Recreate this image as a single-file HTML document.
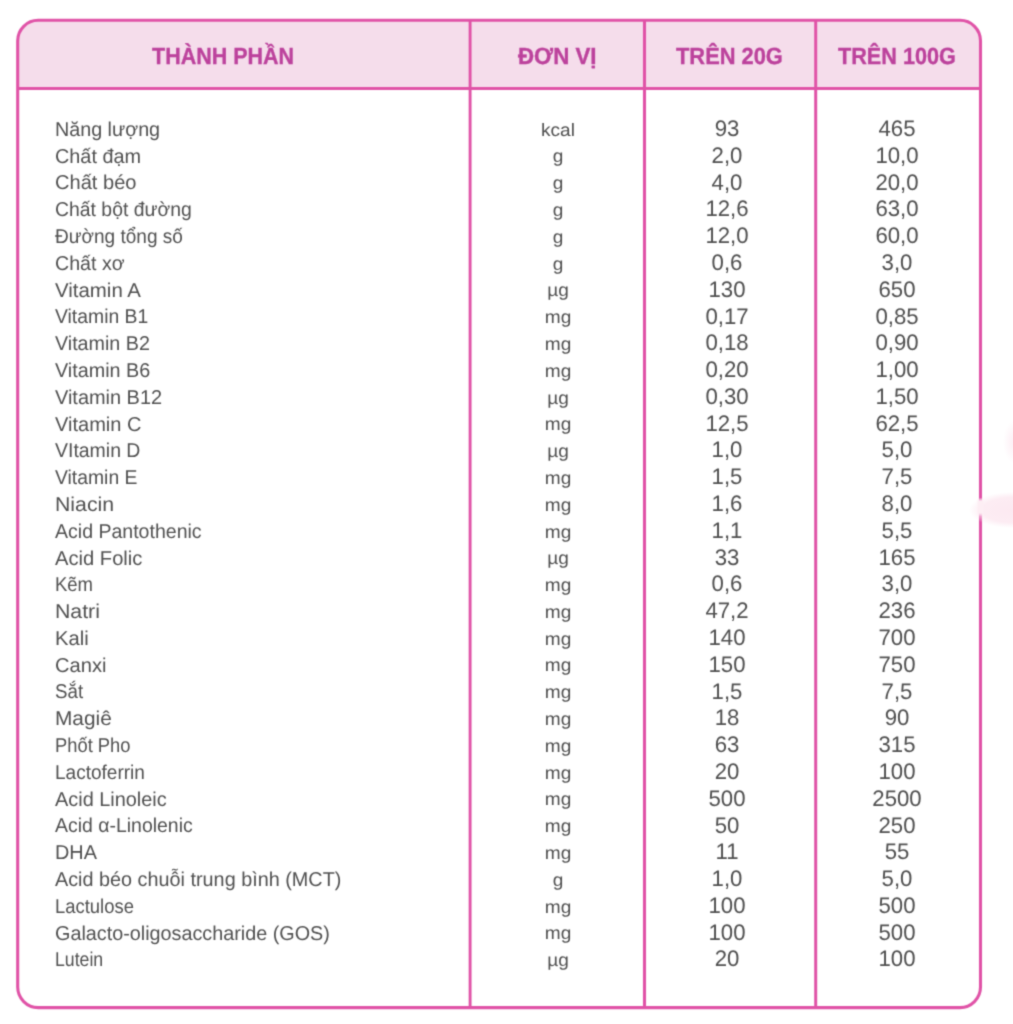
<!DOCTYPE html>
<html><head><meta charset="utf-8"><title>Thành phần dinh dưỡng</title><style>
html,body{margin:0;padding:0;background:#fff;}
body{width:1013px;height:1024px;position:relative;overflow:hidden;font-family:"Liberation Sans",sans-serif;text-rendering:geometricPrecision;}
.wrap{position:absolute;left:0;top:0;width:1013px;height:1024px;background:#fff;filter:url(#sf);}
.h{position:absolute;font-weight:bold;-webkit-text-stroke:0.35px #bc429c;font-size:23.4px;line-height:23.4px;color:#bc429c;white-space:nowrap;transform-origin:0 0;}
.t{position:absolute;font-size:20px;line-height:20px;color:#505050;white-space:nowrap;transform-origin:0 0;}
.c{position:absolute;width:120px;text-align:center;font-size:18px;line-height:18px;transform:scaleX(1.06);transform-origin:50% 0;color:#505050;white-space:nowrap;}
.n{position:absolute;width:120px;text-align:center;font-size:22.5px;line-height:22.5px;color:#505050;white-space:nowrap;transform:scaleX(0.985);transform-origin:50% 0;}
</style></head><body>
<svg width="0" height="0" style="position:absolute"><filter id="sf" x="0" y="0" width="100%" height="100%" color-interpolation-filters="sRGB"><feConvolveMatrix order="3" kernelMatrix="1 4 1 4 16 4 1 4 1" divisor="36" edgeMode="duplicate"/></filter></svg>
<div class="wrap">
<svg width="1013" height="1024" style="position:absolute;left:0;top:0">
<path d="M17.7,88.5 L17.7,40.8 A20.5,20.5 0 0 1 38.2,20.3 L960.0,20.3 A20.5,20.5 0 0 1 980.5,40.8 L980.5,88.5 Z" fill="#f5ddeb"/>
<rect x="468.65" y="20.30" width="2.9" height="987.30" fill="#e053a7"/>
<rect x="642.95" y="20.30" width="3.1" height="987.30" fill="#e053a7"/>
<rect x="814.20" y="20.30" width="3.0" height="987.30" fill="#e053a7"/>
<rect x="17.70" y="87.00" width="962.80" height="3.0" fill="#e053a7"/>
<rect x="17.7" y="20.3" width="962.80" height="987.30" rx="20.5" ry="20.5" fill="none" stroke="#e053a7" stroke-width="3.1"/>
<defs><radialGradient id="g1" cx="1013" cy="510" r="1" gradientUnits="userSpaceOnUse" gradientTransform="translate(1013 510) scale(44 18) translate(-1013 -510)"><stop offset="0" stop-color="#fce9f1" stop-opacity="1"/><stop offset="0.7" stop-color="#fce9f1" stop-opacity="0.85"/><stop offset="1" stop-color="#fce9f1" stop-opacity="0"/></radialGradient><linearGradient id="g3" x1="0" y1="0" x2="0" y2="1"><stop offset="0" stop-color="#fdeef4" stop-opacity="0"/><stop offset="0.2" stop-color="#fdeef4" stop-opacity="1"/><stop offset="0.8" stop-color="#fdeef4" stop-opacity="1"/><stop offset="1" stop-color="#fdeef4" stop-opacity="0"/></linearGradient><radialGradient id="g2" cx="1015" cy="442" r="1" gradientUnits="userSpaceOnUse" gradientTransform="translate(1015 442) scale(12 22) translate(-1015 -442)"><stop offset="0" stop-color="#fcecf3" stop-opacity="1"/><stop offset="1" stop-color="#fcecf3" stop-opacity="0"/></radialGradient></defs>
<rect x="965" y="488" width="48" height="44" fill="url(#g1)"/>
<rect x="977.5" y="497.5" width="6" height="19" fill="url(#g3)"/>
<rect x="995" y="415" width="18" height="55" fill="url(#g2)"/>
</svg>
<div class="h" style="left:152.10px;top:44.79px;transform:scale(0.9187,1.0)">THÀNH PHẦN</div>
<div class="h" style="left:518.40px;top:44.79px;transform:scale(0.9543,1.0)">ĐƠN VỊ</div>
<div class="h" style="left:675.90px;top:44.79px;transform:scale(0.9342,1.0)">TRÊN 20G</div>
<div class="h" style="left:838.30px;top:44.79px;transform:scale(0.9253,1.0)">TRÊN 100G</div>
<div class="t" style="left:55.30px;top:119.90px;transform:scaleX(0.9859)">Năng lượng</div>
<div class="c" style="left:498.0px;top:120.69px">kcal</div>
<div class="n" style="left:666.80px;top:118.00px">93</div>
<div class="n" style="left:837.00px;top:118.00px">465</div>
<div class="t" style="left:55.30px;top:146.69px;transform:scaleX(0.9919)">Chất đạm</div>
<div class="c" style="left:498.0px;top:147.48px">g</div>
<div class="n" style="left:666.80px;top:144.79px">2,0</div>
<div class="n" style="left:837.00px;top:144.79px">10,0</div>
<div class="t" style="left:55.30px;top:173.48px;transform:scaleX(1.0037)">Chất béo</div>
<div class="c" style="left:498.0px;top:174.27px">g</div>
<div class="n" style="left:666.80px;top:171.58px">4,0</div>
<div class="n" style="left:837.00px;top:171.58px">20,0</div>
<div class="t" style="left:55.30px;top:200.27px;transform:scaleX(0.9695)">Chất bột đường</div>
<div class="c" style="left:498.0px;top:201.06px">g</div>
<div class="n" style="left:666.80px;top:198.37px">12,6</div>
<div class="n" style="left:837.00px;top:198.37px">63,0</div>
<div class="t" style="left:55.30px;top:227.06px;transform:scaleX(0.9516)">Đường tổng số</div>
<div class="c" style="left:498.0px;top:227.85px">g</div>
<div class="n" style="left:666.80px;top:225.16px">12,0</div>
<div class="n" style="left:837.00px;top:225.16px">60,0</div>
<div class="t" style="left:55.30px;top:253.85px;transform:scaleX(0.9817)">Chất xơ</div>
<div class="c" style="left:498.0px;top:254.64px">g</div>
<div class="n" style="left:666.80px;top:251.95px">0,6</div>
<div class="n" style="left:837.00px;top:251.95px">3,0</div>
<div class="t" style="left:55.30px;top:280.64px;transform:scaleX(1.0214)">Vitamin A</div>
<div class="c" style="left:498.0px;top:281.43px">µg</div>
<div class="n" style="left:666.80px;top:278.74px">130</div>
<div class="n" style="left:837.00px;top:278.74px">650</div>
<div class="t" style="left:55.30px;top:307.43px;transform:scaleX(0.9678)">Vitamin B1</div>
<div class="c" style="left:498.0px;top:308.22px">mg</div>
<div class="n" style="left:666.80px;top:305.53px">0,17</div>
<div class="n" style="left:837.00px;top:305.53px">0,85</div>
<div class="t" style="left:55.30px;top:334.22px;transform:scaleX(0.9844)">Vitamin B2</div>
<div class="c" style="left:498.0px;top:335.01px">mg</div>
<div class="n" style="left:666.80px;top:332.32px">0,18</div>
<div class="n" style="left:837.00px;top:332.32px">0,90</div>
<div class="t" style="left:55.30px;top:361.01px;transform:scaleX(0.9886)">Vitamin B6</div>
<div class="c" style="left:498.0px;top:361.80px">mg</div>
<div class="n" style="left:666.80px;top:359.11px">0,20</div>
<div class="n" style="left:837.00px;top:359.11px">1,00</div>
<div class="t" style="left:55.30px;top:387.80px;transform:scaleX(0.9963)">Vitamin B12</div>
<div class="c" style="left:498.0px;top:388.59px">µg</div>
<div class="n" style="left:666.80px;top:385.90px">0,30</div>
<div class="n" style="left:837.00px;top:385.90px">1,50</div>
<div class="t" style="left:55.30px;top:414.59px;transform:scaleX(1.0012)">Vitamin C</div>
<div class="c" style="left:498.0px;top:415.38px">mg</div>
<div class="n" style="left:666.80px;top:412.69px">12,5</div>
<div class="n" style="left:837.00px;top:412.69px">62,5</div>
<div class="t" style="left:55.30px;top:441.38px;transform:scaleX(0.9727)">VItamin D</div>
<div class="c" style="left:498.0px;top:442.17px">µg</div>
<div class="n" style="left:666.80px;top:439.48px">1,0</div>
<div class="n" style="left:837.00px;top:439.48px">5,0</div>
<div class="t" style="left:55.30px;top:468.17px;transform:scaleX(0.9671)">Vitamin E</div>
<div class="c" style="left:498.0px;top:468.96px">mg</div>
<div class="n" style="left:666.80px;top:466.27px">1,5</div>
<div class="n" style="left:837.00px;top:466.27px">7,5</div>
<div class="t" style="left:55.30px;top:494.96px;transform:scaleX(1.0629)">Niacin</div>
<div class="c" style="left:498.0px;top:495.75px">mg</div>
<div class="n" style="left:666.80px;top:493.06px">1,6</div>
<div class="n" style="left:837.00px;top:493.06px">8,0</div>
<div class="t" style="left:55.30px;top:521.75px;transform:scaleX(0.9767)">Acid Pantothenic</div>
<div class="c" style="left:498.0px;top:522.54px">mg</div>
<div class="n" style="left:666.80px;top:519.85px">1,1</div>
<div class="n" style="left:837.00px;top:519.85px">5,5</div>
<div class="t" style="left:55.30px;top:548.54px;transform:scaleX(1.0081)">Acid Folic</div>
<div class="c" style="left:498.0px;top:549.33px">µg</div>
<div class="n" style="left:666.80px;top:546.64px">33</div>
<div class="n" style="left:837.00px;top:546.64px">165</div>
<div class="t" style="left:55.30px;top:575.33px;transform:scaleX(0.9246)">Kẽm</div>
<div class="c" style="left:498.0px;top:576.12px">mg</div>
<div class="n" style="left:666.80px;top:573.43px">0,6</div>
<div class="n" style="left:837.00px;top:573.43px">3,0</div>
<div class="t" style="left:55.30px;top:602.12px;transform:scaleX(1.0640)">Natri</div>
<div class="c" style="left:498.0px;top:602.91px">mg</div>
<div class="n" style="left:666.80px;top:600.22px">47,2</div>
<div class="n" style="left:837.00px;top:600.22px">236</div>
<div class="t" style="left:55.30px;top:628.91px;transform:scaleX(1.0090)">Kali</div>
<div class="c" style="left:498.0px;top:629.70px">mg</div>
<div class="n" style="left:666.80px;top:627.01px">140</div>
<div class="n" style="left:837.00px;top:627.01px">700</div>
<div class="t" style="left:55.30px;top:655.70px;transform:scaleX(1.0059)">Canxi</div>
<div class="c" style="left:498.0px;top:656.49px">mg</div>
<div class="n" style="left:666.80px;top:653.80px">150</div>
<div class="n" style="left:837.00px;top:653.80px">750</div>
<div class="t" style="left:55.30px;top:682.49px;transform:scaleX(0.9367)">Sắt</div>
<div class="c" style="left:498.0px;top:683.28px">mg</div>
<div class="n" style="left:666.80px;top:680.59px">1,5</div>
<div class="n" style="left:837.00px;top:680.59px">7,5</div>
<div class="t" style="left:55.30px;top:709.28px;transform:scaleX(1.0422)">Magiê</div>
<div class="c" style="left:498.0px;top:710.07px">mg</div>
<div class="n" style="left:666.80px;top:707.38px">18</div>
<div class="n" style="left:837.00px;top:707.38px">90</div>
<div class="t" style="left:55.30px;top:736.07px;transform:scaleX(0.9174)">Phốt Pho</div>
<div class="c" style="left:498.0px;top:736.86px">mg</div>
<div class="n" style="left:666.80px;top:734.17px">63</div>
<div class="n" style="left:837.00px;top:734.17px">315</div>
<div class="t" style="left:55.30px;top:762.86px;transform:scaleX(0.9513)">Lactoferrin</div>
<div class="c" style="left:498.0px;top:763.65px">mg</div>
<div class="n" style="left:666.80px;top:760.96px">20</div>
<div class="n" style="left:837.00px;top:760.96px">100</div>
<div class="t" style="left:55.30px;top:789.65px;transform:scaleX(0.9947)">Acid Linoleic</div>
<div class="c" style="left:498.0px;top:790.44px">mg</div>
<div class="n" style="left:666.80px;top:787.75px">500</div>
<div class="n" style="left:837.00px;top:787.75px">2500</div>
<div class="t" style="left:55.30px;top:816.44px;transform:scaleX(0.9725)">Acid α-Linolenic</div>
<div class="c" style="left:498.0px;top:817.23px">mg</div>
<div class="n" style="left:666.80px;top:814.54px">50</div>
<div class="n" style="left:837.00px;top:814.54px">250</div>
<div class="t" style="left:55.30px;top:843.23px;transform:scaleX(0.9929)">DHA</div>
<div class="c" style="left:498.0px;top:844.02px">mg</div>
<div class="n" style="left:666.80px;top:841.33px">11</div>
<div class="n" style="left:837.00px;top:841.33px">55</div>
<div class="t" style="left:55.30px;top:870.02px;transform:scaleX(0.9907)">Acid béo chuỗi trung bình (MCT)</div>
<div class="c" style="left:498.0px;top:870.81px">g</div>
<div class="n" style="left:666.80px;top:868.12px">1,0</div>
<div class="n" style="left:837.00px;top:868.12px">5,0</div>
<div class="t" style="left:55.30px;top:896.81px;transform:scaleX(0.9217)">Lactulose</div>
<div class="c" style="left:498.0px;top:897.60px">mg</div>
<div class="n" style="left:666.80px;top:894.91px">100</div>
<div class="n" style="left:837.00px;top:894.91px">500</div>
<div class="t" style="left:55.30px;top:923.60px;transform:scaleX(0.9892)">Galacto-oligosaccharide (GOS)</div>
<div class="c" style="left:498.0px;top:924.39px">mg</div>
<div class="n" style="left:666.80px;top:921.70px">100</div>
<div class="n" style="left:837.00px;top:921.70px">500</div>
<div class="t" style="left:55.30px;top:950.39px;transform:scaleX(0.8844)">Lutein</div>
<div class="c" style="left:498.0px;top:951.18px">µg</div>
<div class="n" style="left:666.80px;top:948.49px">20</div>
<div class="n" style="left:837.00px;top:948.49px">100</div>
</div>
</body></html>
